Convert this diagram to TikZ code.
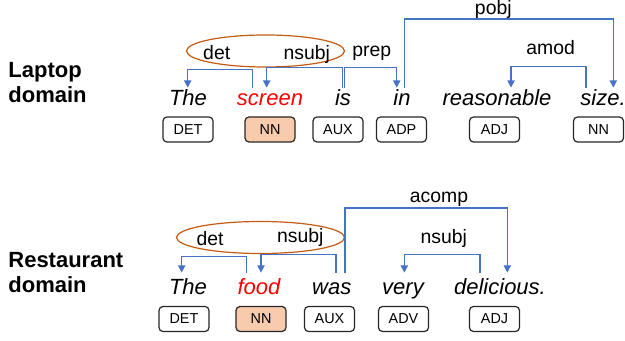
\documentclass[tikz,border=0pt]{standalone}
\usepackage{fontspec}
\setmainfont{Liberation Sans}
\usetikzlibrary{arrows.meta,calc,shapes.geometric}
\definecolor{deparc}{RGB}{68,114,196}
\definecolor{grpline}{RGB}{197,90,17}
\definecolor{nnfill}{RGB}{248,203,173}

\begin{document}
\begin{tikzpicture}[x=0.5pt, y=0.5pt,
  word/.style={anchor=base, inner sep=0pt, text height=9pt, font=\fontsize{11}{13}\selectfont\itshape},
  tag/.style={draw=black!85, rounded corners=2pt, line width=0.6pt, minimum width=25pt, minimum height=12.5pt, inner sep=0pt, font=\fontsize{7.2}{8}\selectfont},
  rel/.style={anchor=base, inner sep=0pt, font=\fontsize{9.7}{11}\selectfont},
  dep/.style={draw=deparc, line width=0.7pt, -{Triangle[width=3.6pt,length=3.6pt]}},
  grp/.style={draw=grpline, ellipse, line width=0.6pt, inner sep=0pt},
  dom/.style={anchor=north west, inner sep=0pt, align=left, font=\fontsize{11}{12.8}\selectfont\bfseries}]
\useasboundingbox (0,0) rectangle (625,341);

% laptop sentence
\node[dom] (LD) at (8,279.3) {Laptop\\domain};
\node[word] (LW1) at (188,235) {The};
\node[word, text=red] (LW2) at (270,235) {screen};
\node[word] (LW3) at (343,235) {is};
\node[word] (LW4) at (402,235) {in};
\node[word] (LW5) at (497,235) {reasonable};
\node[word] (LW6) at (603,235) {size.};
\node[tag] (LT1) at (188,211.5) {DET};
\node[tag, fill=nnfill] (LT2) at (270,211.5) {NN};
\node[tag] (LT3) at (338,211.5) {AUX};
\node[tag] (LT4) at (401.5,211.5) {ADP};
\node[tag] (LT5) at (494.5,211.5) {ADJ};
\node[tag] (LT6) at (598.5,211.5) {NN};
\node[grp, minimum width=79pt, minimum height=16pt] (LG) at (265.5,290) {};
\node[rel] (LR1) at (216.7,281.7) {det};
\node[rel] (LR2) at (306.7,281.7) {nsubj};
\node[rel] (LR3) at (371.7,284.3) {prep};
\node[rel] (LR4) at (493.3,326) {pobj};
\node[rel] (LR5) at (550.7,286) {amod};
\draw[dep] ($(LW2.north)+(-17.3,0)$) -- ++(0,18) -| ($(LW1.north)+(-0.3,0)$);
\draw[dep] ($(LW3.north)+(-0.3,0)$) -- ++(0,20) -| ($(LW2.north)+(-3.3,0)$);
\draw[dep] ($(LW3.north)+(1.3,0)$) -- ++(0,20) -| ($(LW4.north)+(-5.3,0)$);
\draw[dep] ($(LW4.north)+(2.3,0)$) -- ++(0,68.7) -| ($(LW6.north)+(10.3,0)$);
\draw[dep] ($(LW6.north)+(-17,0)$) -- ++(0,21.3) -| ($(LW5.north)+(14,0)$);

% restaurant sentence
\node[dom] (RD) at (8,89.3) {Restaurant\\domain};
\node[word, text height=11pt] (RW1) at (188,46) {The};
\node[word, text height=11pt, text=red] (RW2) at (259,46) {food};
\node[word, text height=11pt] (RW3) at (331.7,46) {was};
\node[word, text height=11pt] (RW4) at (403,46) {very};
\node[word, text height=11pt] (RW5) at (500,46) {delicious.};
\node[tag] (RT1) at (184,22) {DET};
\node[tag, fill=nnfill] (RT2) at (261,22) {NN};
\node[tag] (RT3) at (329.5,22) {AUX};
\node[tag] (RT4) at (403.5,22) {ADV};
\node[tag] (RT5) at (494.5,22) {ADJ};
\node[grp, minimum width=84pt, minimum height=16pt] (RG) at (260.5,103.5) {};
\node[rel] (RR1) at (210,95) {det};
\node[rel] (RR2) at (300.3,98.3) {nsubj};
\node[rel] (RR3) at (439,138.7) {acomp};
\node[rel] (RR4) at (443.7,97.7) {nsubj};
\draw[dep] ($(RW2.north)+(-12.3,0)$) -- ++(0,16.3) -| ($(RW1.north)+(-6.3,0)$);
\draw[dep] ($(RW3.north)+(4.3,0)$) -- ++(0,18) -| ($(RW2.north)+(2,0)$);
\draw[dep] ($(RW3.north)+(13.3,0)$) -- ++(0,64.7) -| ($(RW5.north)+(7.3,0)$);
\draw[dep] ($(RW5.north)+(-20,0)$) -- ++(0,18) -| ($(RW4.north)+(1.3,0)$);
\end{tikzpicture}
\end{document}
